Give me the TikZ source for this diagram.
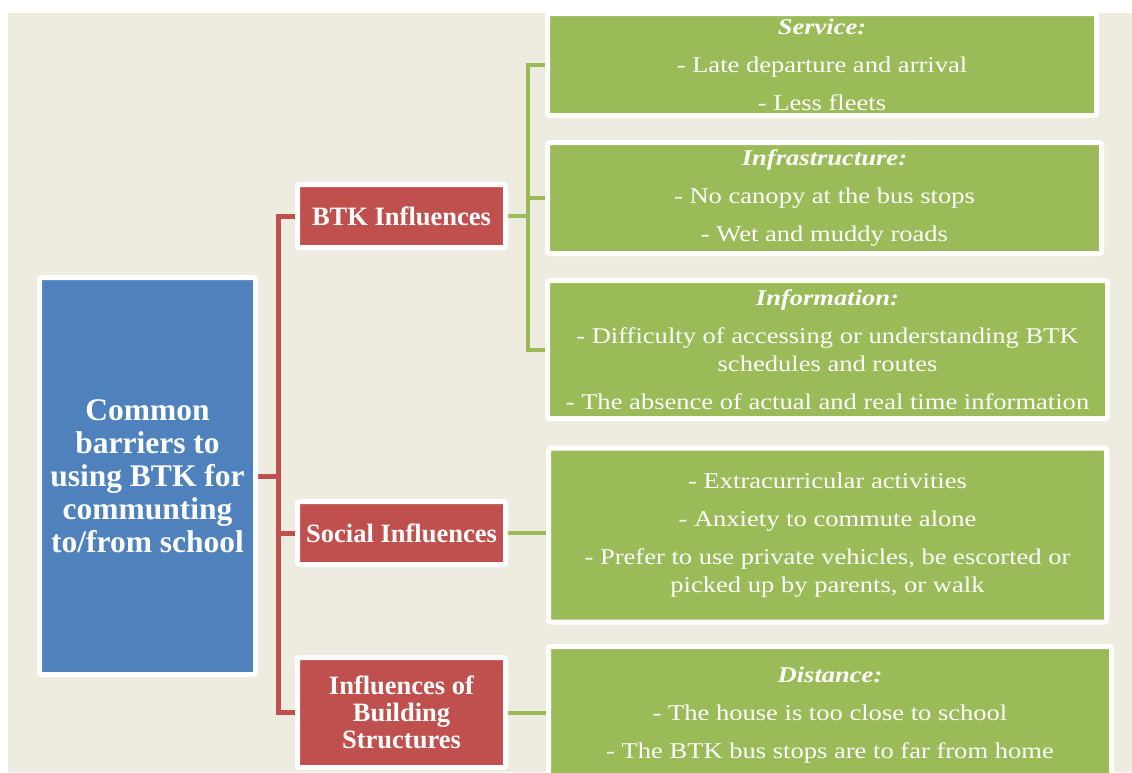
\documentclass[tikz,border=0pt]{standalone}
\usepackage{fontspec}
\setmainfont{Liberation Serif}
\newfontfamily\itemfont{Liberation Serif}[FakeStretch=1.18]
\usetikzlibrary{backgrounds}
\definecolor{rootblue}{HTML}{4F81BD}
\definecolor{groupred}{HTML}{C0504D}
\definecolor{itemgreen}{HTML}{9BBB59}
\definecolor{paper}{HTML}{EEECE1}
\begin{document}
\begin{tikzpicture}[x=1pt,y=-1pt]
	% gaps between the lines of one box
	\def\gap{10pt}
	\def\trunk{20}
	% node style definition
	\tikzstyle{box} = [draw=white, line width=5pt, rounded corners=2pt, text=white, align=center, inner sep=0pt];
	\tikzstyle{root} = [box, fill=rootblue, font=\bfseries\fontsize{31.5}{33}\selectfont];
	\tikzstyle{group} = [box, fill=groupred, minimum width=208pt, font=\bfseries\fontsize{26.5}{27}\selectfont];
	\tikzstyle{items} = [box, fill=itemgreen, font=\itemfont\fontsize{22.5}{28}\selectfont];
	\tikzstyle{redline} = [draw=groupred, line width=5pt];
	\tikzstyle{greenline} = [draw=itemgreen, line width=4pt];
	\useasboundingbox (0,0) rectangle (1132,772);

	\node[root, minimum width=216pt, minimum height=397pt] (barriers) at (147.5,476) {Common\\barriers to\\using BTK for\\communting\\to/from school};

	\node[group, minimum height=63pt] (btk) at (401.5,216) {BTK Influences};
	\node[group, minimum height=63pt] (social) at (401.5,533) {Social Influences};
	\node[group, minimum height=110pt] (building) at (401.5,712.5) {Influences of\\Building\\Structures};

	\node[items, minimum width=549pt, minimum height=102pt] (service) at (822,64.5) {\textbf{\textit{Service:}}\\[\gap] - Late departure and arrival\\[\gap] - Less fleets};
	\node[items, minimum width=554pt, minimum height=111pt] (infra) at (824.5,198) {\textbf{\textit{Infrastructure:}}\\[\gap] - No canopy at the bus stops\\[\gap] - Wet and muddy roads};
	\node[items, minimum width=560pt, minimum height=138pt] (info) at (827.5,349.5) {\textbf{\textit{Information:}}\\[\gap] - Difficulty of accessing or understanding BTK\\schedules and routes\\[\gap] - The absence of actual and real time information};
	\node[items, minimum width=558pt, minimum height=174pt] (socitems) at (827.5,535) {- Extracurricular activities\\[\gap] - Anxiety to commute alone\\[\gap] - Prefer to use private vehicles, be escorted or\\picked up by parents, or walk};
	\node[items, minimum width=563pt, minimum height=137pt] (distance) at (830,715) {\textbf{\textit{Distance:}}\\[\gap] - The house is too close to school\\[\gap] - The BTK bus stops are to far from home};

	\begin{scope}[on background layer]
		\fill[paper] (8,13) rectangle (1132,772);
		% red tree
		\draw[redline] (barriers.east) -- ++(\trunk,0) coordinate (rtrunk);
		\draw[redline] (btk.west) -| (rtrunk) |- (building.west);
		\draw[redline] (rtrunk |- social.west) -- (social.west);
		% green tree
		\draw[greenline] (btk.east) -- ++(\trunk,0) coordinate (gtrunk);
		\draw[greenline] (service.west) -| (gtrunk) |- (info.west);
		\draw[greenline] (gtrunk |- infra.west) -- (infra.west);
		\draw[greenline] (social.east) -- (social.east -| socitems.west);
		\draw[greenline] (building.east) -- (building.east -| distance.west);
	\end{scope}
\end{tikzpicture}
\end{document}
